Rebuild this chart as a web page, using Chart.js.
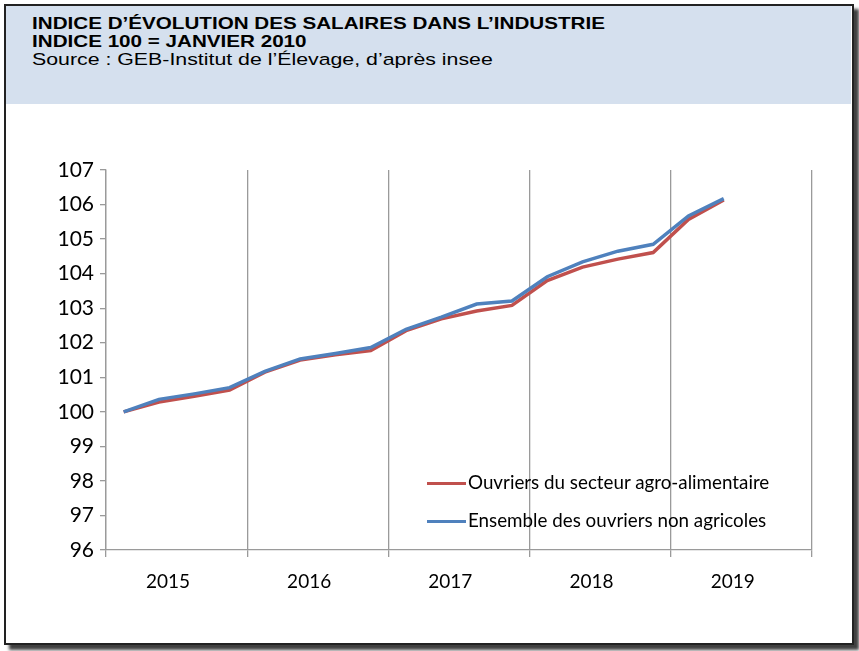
<!DOCTYPE html>
<html>
<head>
<meta charset="utf-8">
<script src="https://cdn.jsdelivr.net/npm/chart.js@4/dist/chart.umd.min.js"></script>
<style>
  html, body { margin: 0; padding: 0; background: #fff; }
  body { width: 859px; height: 651px; position: relative; overflow: hidden; }
  #frame {
    position: absolute; left: 4px; top: 4px; width: 846px; height: 637px;
    border: 2px solid #222; background: #fff;
    box-shadow: 5px 5px 3px rgba(0,0,0,0.75);
  }
  #header {
    position: absolute; left: 0; top: 0; right: 1px; height: 98px;
    background: #d5e0ee; font-family: "Liberation Sans", Arial, sans-serif;
    font-size: 16.5px; color: #000;
  }
  #header div { position: absolute; left: 26px; white-space: nowrap; transform: scaleX(1.25); transform-origin: 0 50%; }
  #t1 { top: 8px; font-weight: bold; }
  #t2 { top: 26px; font-weight: bold; }
  #t3 { top: 44px; font-size: 16.8px; transform: scaleX(1.27) !important; }
  #wrap { position: absolute; left: 0; top: 0; width: 859px; height: 651px; }
  .leg { position: absolute; left: 427px; font-family: Lato, sans-serif; font-size: 18.8px; color: #000; white-space: nowrap; }
  .leg span { display: inline-block; width: 39px; height: 3px; vertical-align: middle; margin-right: 2px; position: relative; top: -1px; }
</style>
</head>
<body>
<div id="frame">
  <div id="header">
    <div id="t1">INDICE D’ÉVOLUTION DES SALAIRES DANS L’INDUSTRIE</div>
    <div id="t2">INDICE 100 = JANVIER 2010</div>
    <div id="t3">Source : GEB-Institut de l’Élevage, d’après insee</div>
  </div>
</div>
<div id="wrap"><canvas id="c" width="859" height="651"></canvas></div>
<div class="leg" style="top:470px"><span style="background:#c0504d"></span>Ouvriers du secteur agro-alimentaire</div>
<div class="leg" style="top:508px"><span style="background:#4f81bd"></span>Ensemble des ouvriers non agricoles</div>
<script>
  // quarterly index, base 100 = Jan 2010 ; 2019 only Q1-Q2 known
  var years = ['2015', '2016', '2017', '2018', '2019']
  var quarters = ['T1', 'T2', 'T3', 'T4']
  var agroAlimentaire = [100.0, 100.28, 100.45, 100.63, 101.15, 101.5, 101.65, 101.77, 102.35, 102.69, 102.92, 103.08, 103.8, 104.19, 104.42, 104.61, 105.57, 106.13, null, null]
  var nonAgricoles    = [100.0, 100.36, 100.52, 100.70, 101.17, 101.53, 101.69, 101.86, 102.39, 102.74, 103.12, 103.21, 103.91, 104.34, 104.65, 104.85, 105.67, 106.17, null, null]
  var yTicks = [96, 97, 98, 99, 100, 101, 102, 103, 104, 105, 106, 107]

  var labels = []
  years.forEach(function(y){ quarters.forEach(function(q){ labels.push(q + ' ' + y) }) })

  var axisGray = '#9a9a9a'

  new Chart(document.getElementById('c'), {
    type: 'line',
    data: {
      labels: labels,
      datasets: [
        { label: 'Ouvriers du secteur agro-alimentaire', data: agroAlimentaire, borderColor: '#c0504d', borderWidth: 3.5, pointRadius: 0, tension: 0, order: 2 },
        { label: 'Ensemble des ouvriers non agricoles', data: nonAgricoles, borderColor: '#4f81bd', borderWidth: 3.5, pointRadius: 0, tension: 0, order: 1 }
      ]
    },
    options: {
      responsive: false,
      animation: false,
      layout: { padding: { left: 0, top: 170, right: 47, bottom: 48 } },
      plugins: { legend: { display: false }, tooltip: { enabled: false } },
      scales: {
        x: {
          type: 'category',
          offset: true,
          grid: {
            offset: true,
            color: function(ctx){
              // year separators only
              if (ctx.index === undefined || ctx.index % 4 === 0) return axisGray
              return 'transparent'
            },
            lineWidth: 1.3,
            tickLength: 7
          },
          border: { color: axisGray, width: 1.3 },
          ticks: {
            autoSkip: false,
            maxRotation: 0,
            padding: 13,
            labelOffset: 9,
            color: '#000',
            font: { family: 'Lato', size: 19 },
            callback: function(v, i){ return i % 4 === 1 ? years[Math.floor(i / 4)] : '' }
          },
          afterFit: function(s){ s.height = 101 - 48 }
        },
        y: {
          min: yTicks[0],
          max: yTicks[yTicks.length - 1],
          afterBuildTicks: function(s){ s.ticks = yTicks.map(function(v){ return { value: v } }) },
          afterFit: function(s){ s.width = 106 },
          grid: { drawOnChartArea: false, color: axisGray, tickLength: 6, lineWidth: 1.3 },
          border: { color: axisGray, width: 1.3 },
          ticks: { padding: 6, color: '#000', font: { family: 'Lato', size: 21 } }
        }
      }
    }
  })
</script>
</body>
</html>
